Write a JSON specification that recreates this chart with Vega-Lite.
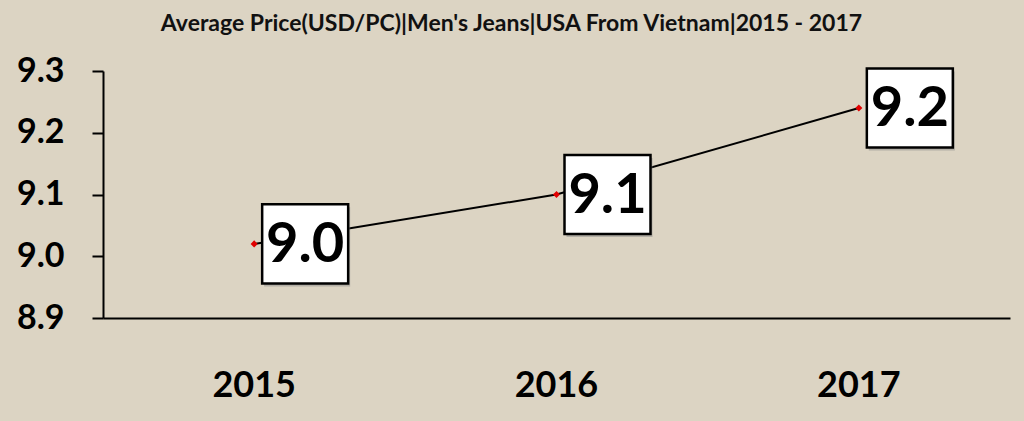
{
  "$schema": "https://vega.github.io/schema/vega-lite/v6.json",
  "width": 907,
  "height": 247,
  "autosize": {"type": "none"},
  "padding": {"left": 103, "top": 71, "right": 14, "bottom": 103},
  "background": "#dcd4c3",
  "title": {
    "text": "Average Price(USD/PC)|Men's Jeans|USA From Vietnam|2015 - 2017",
    "font": "Lato",
    "fontSize": 23,
    "fontWeight": "bold",
    "color": "#111111",
    "anchor": "middle",
    "baseline": "alphabetic",
    "offset": 0,
    "dx": -45
  },
  "config": {
    "view": {"stroke": null},
    "axis": {"grid": false, "domainColor": "#000000", "domainWidth": 2, "tickColor": "#000000", "tickWidth": 2}
  },
  "data": {
    "values": [
      {"year": "2015", "price": 9.02},
      {"year": "2016", "price": 9.10},
      {"year": "2017", "price": 9.24}
    ]
  },
  "encoding": {
    "x": {
      "field": "year",
      "type": "ordinal",
      "scale": {"type": "band", "paddingInner": 0, "paddingOuter": 0},
      "axis": {
        "title": null,
        "labelAngle": 0,
        "ticks": false,
        "tickSize": 0,
        "labelFont": "Lato",
        "labelFontWeight": "bold",
        "labelFontSize": 36,
        "labelColor": "#000000",
        "labelPadding": 50,
        "labelBaseline": "top"
      }
    },
    "y": {
      "field": "price",
      "type": "quantitative",
      "scale": {"domain": [8.9, 9.3], "zero": false, "nice": false},
      "axis": {
        "title": null,
        "values": [8.9, 9.0, 9.1, 9.2, 9.3],
        "format": ".1f",
        "tickSize": 11,
        "labelFont": "Lato",
        "labelFontWeight": "bold",
        "labelFontSize": 34,
        "labelColor": "#000000",
        "labelPadding": 28
      }
    }
  },
  "layer": [
    {"mark": {"type": "line", "color": "#000000", "strokeWidth": 2}},
    {"mark": {"type": "point", "shape": "diamond", "size": 50, "filled": true, "color": "#e00000", "opacity": 1}},
    {"mark": {"type": "point", "shape": "M-1,-0.92L1,-0.92L1,0.92L-1,0.92Z", "size": 7396, "filled": true, "color": "#8a8a8a", "opacity": 0.5, "xOffset": 53, "yOffset": 3}},
    {"mark": {"type": "point", "shape": "M-1,-0.92L1,-0.92L1,0.92L-1,0.92Z", "size": 7396, "fill": "#ffffff", "fillOpacity": 1, "stroke": "#000000", "strokeWidth": 2.5, "opacity": 1, "xOffset": 51}},
    {"mark": {"type": "text", "font": "Lato", "fontWeight": "bold", "fontSize": 56, "color": "#000000", "xOffset": 51, "baseline": "middle", "align": "center", "dy": 1}, "encoding": {"text": {"field": "price", "type": "quantitative", "format": ".1f"}}}
  ]
}
